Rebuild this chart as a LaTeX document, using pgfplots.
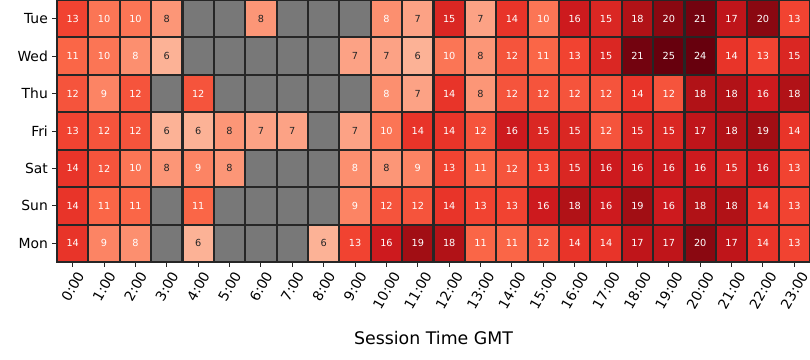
\documentclass[border=0pt]{standalone}
\usepackage{fontspec}
\setmainfont{DejaVu Sans}
\usepackage{graphicx}
\usepackage{pgfplots}
\pgfplotsset{compat=1.18}
\usepackage{pgfplotstable}

\definecolor{nancol}{RGB}{120,120,120}
\definecolor{gridc}{RGB}{38,38,38}
\definecolor{tdark}{RGB}{38,38,38}

% x = hour, y = day (Mon=0 ... Tue=6), v = value, w = 100 for white text, 0 for dark text
\pgfplotstableread{
x y v w
0 6 13 100
1 6 10 100
2 6 10 100
3 6 7.8 0
6 6 7.8 0
10 6 8.3 100
11 6 7 0
12 6 15 100
13 6 7 0
14 6 14 100
15 6 10 100
16 6 16 100
17 6 15 100
18 6 18 100
19 6 20 100
20 6 21 100
21 6 17 100
22 6 20 100
23 6 13 100
0 5 11 100
1 5 10 100
2 5 8.3 100
3 5 6 0
9 5 7 0
10 5 7 0
11 5 6 0
12 5 10 100
13 5 7.8 0
14 5 12 100
15 5 11 100
16 5 13 100
17 5 15 100
18 5 21 100
19 5 25 100
20 5 24 100
21 5 14 100
22 5 13 100
23 5 15 100
0 4 12 100
1 4 9 100
2 4 12 100
4 4 12 100
10 4 8.3 100
11 4 7 0
12 4 14 100
13 4 7.8 0
14 4 12 100
15 4 12 100
16 4 12 100
17 4 12 100
18 4 14 100
19 4 12 100
20 4 18 100
21 4 18 100
22 4 16 100
23 4 18 100
0 3 13 100
1 3 12 100
2 3 12 100
3 3 6 0
4 3 6 0
5 3 7.8 0
6 3 7 0
7 3 7 0
9 3 7 0
10 3 10 100
11 3 14 100
12 3 14 100
13 3 12 100
14 3 16 100
15 3 15 100
16 3 15 100
17 3 12 100
18 3 15 100
19 3 15 100
20 3 17 100
21 3 18 100
22 3 19 100
23 3 14 100
0 2 14 100
1 2 12 100
2 2 10 100
3 2 7.8 0
4 2 9 100
5 2 7.8 0
9 2 8.3 100
10 2 7.8 0
11 2 9 100
12 2 13 100
13 2 11 100
14 2 12 100
15 2 13 100
16 2 15 100
17 2 16 100
18 2 16 100
19 2 16 100
20 2 16 100
21 2 15 100
22 2 16 100
23 2 13 100
0 1 14 100
1 1 11 100
2 1 11 100
4 1 11 100
9 1 9 100
10 1 12 100
11 1 12 100
12 1 14 100
13 1 13 100
14 1 13 100
15 1 16 100
16 1 18 100
17 1 16 100
18 1 19 100
19 1 16 100
20 1 18 100
21 1 18 100
22 1 14 100
23 1 13 100
0 0 14 100
1 0 9 100
2 0 8.3 100
4 0 6 0
8 0 6 0
9 0 13 100
10 0 16 100
11 0 19 100
12 0 18 100
13 0 11 100
14 0 11 100
15 0 12 100
16 0 14 100
17 0 14 100
18 0 17 100
19 0 17 100
20 0 20 100
21 0 17 100
22 0 14 100
23 0 13 100
}\heat

\newcommand{\rl}[1]{\rotatebox{60}{#1}}

\begin{document}
\begin{tikzpicture}
\begin{axis}[
  name=ax, at={(0,0)}, anchor=south west,
  scale only axis, width=542.16pt, height=188.64pt,
  xmin=-0.5, xmax=23.5, ymin=-0.5, ymax=6.5,
  axis background/.style={fill=nancol},
  axis on top,
  axis line style={draw=gridc, line width=1.5pt},
  xtick={0,...,23}, ytick={0,...,6},
  xticklabels={\rl{0:00},\rl{1:00},\rl{2:00},\rl{3:00},\rl{4:00},\rl{5:00},\rl{6:00},\rl{7:00},\rl{8:00},\rl{9:00},\rl{10:00},\rl{11:00},\rl{12:00},\rl{13:00},\rl{14:00},\rl{15:00},\rl{16:00},\rl{17:00},\rl{18:00},\rl{19:00},\rl{20:00},\rl{21:00},\rl{22:00},\rl{23:00}},
  yticklabels={Mon,Sun,Sat,Fri,Thu,Wed,Tue},
  minor xtick={-0.5,0.5,...,23.5}, minor ytick={-0.5,0.5,...,6.5},
  minor tick length=0pt,
  xminorgrids, yminorgrids,
  minor grid style={draw=gridc, line width=1.5pt},
  major tick length=3.4pt, tick align=outside, xtick pos=left, ytick pos=left,
  major tick style={draw=gridc, line width=0.7pt},
  ticklabel style={font=\fontsize{10}{12}\selectfont, text=black},
  xticklabel style={anchor=north, inner sep=0pt, yshift=-2.5pt},
  yticklabel style={inner sep=3pt},
  colormap={reds}{rgb255=(255,245,240) rgb255=(254,224,210) rgb255=(252,187,161) rgb255=(252,146,114) rgb255=(251,106,74) rgb255=(239,59,44) rgb255=(203,24,29) rgb255=(165,15,21) rgb255=(103,0,13)},
  point meta min=0, point meta max=21.5,
  xlabel={Session Time GMT},
  xlabel style={at={(axis description cs:0.5,0)}, anchor=center, yshift=-54.7pt, font=\fontsize{12.5}{15}\selectfont},
]
\addplot[scatter, only marks, mark=square*, mark size=11.295pt,
  scatter/use mapped color={draw=gridc, line width=1.5pt, fill=mapped color, yscale=1.193},
  point meta=\thisrow{v},
] table[x=x, y=y] {\heat};
\addplot[only marks, mark=none,
  point meta=\thisrow{v},
  visualization depends on={\thisrow{w}\as\cellW},
  nodes near coords={\color{white!\cellW!tdark}\pgfmathprintnumber[fixed,precision=0,assume math mode=true]{\pgfplotspointmeta}},
  every node near coord/.append style={anchor=center, font=\fontsize{7}{8}\selectfont},
] table[x=x, y=y] {\heat};
\end{axis}
\pgfresetboundingbox
\path[use as bounding box] ([xshift=-41.04pt,yshift=-70.56pt]ax.south west) rectangle (ax.north east);
\end{tikzpicture}
\end{document}
